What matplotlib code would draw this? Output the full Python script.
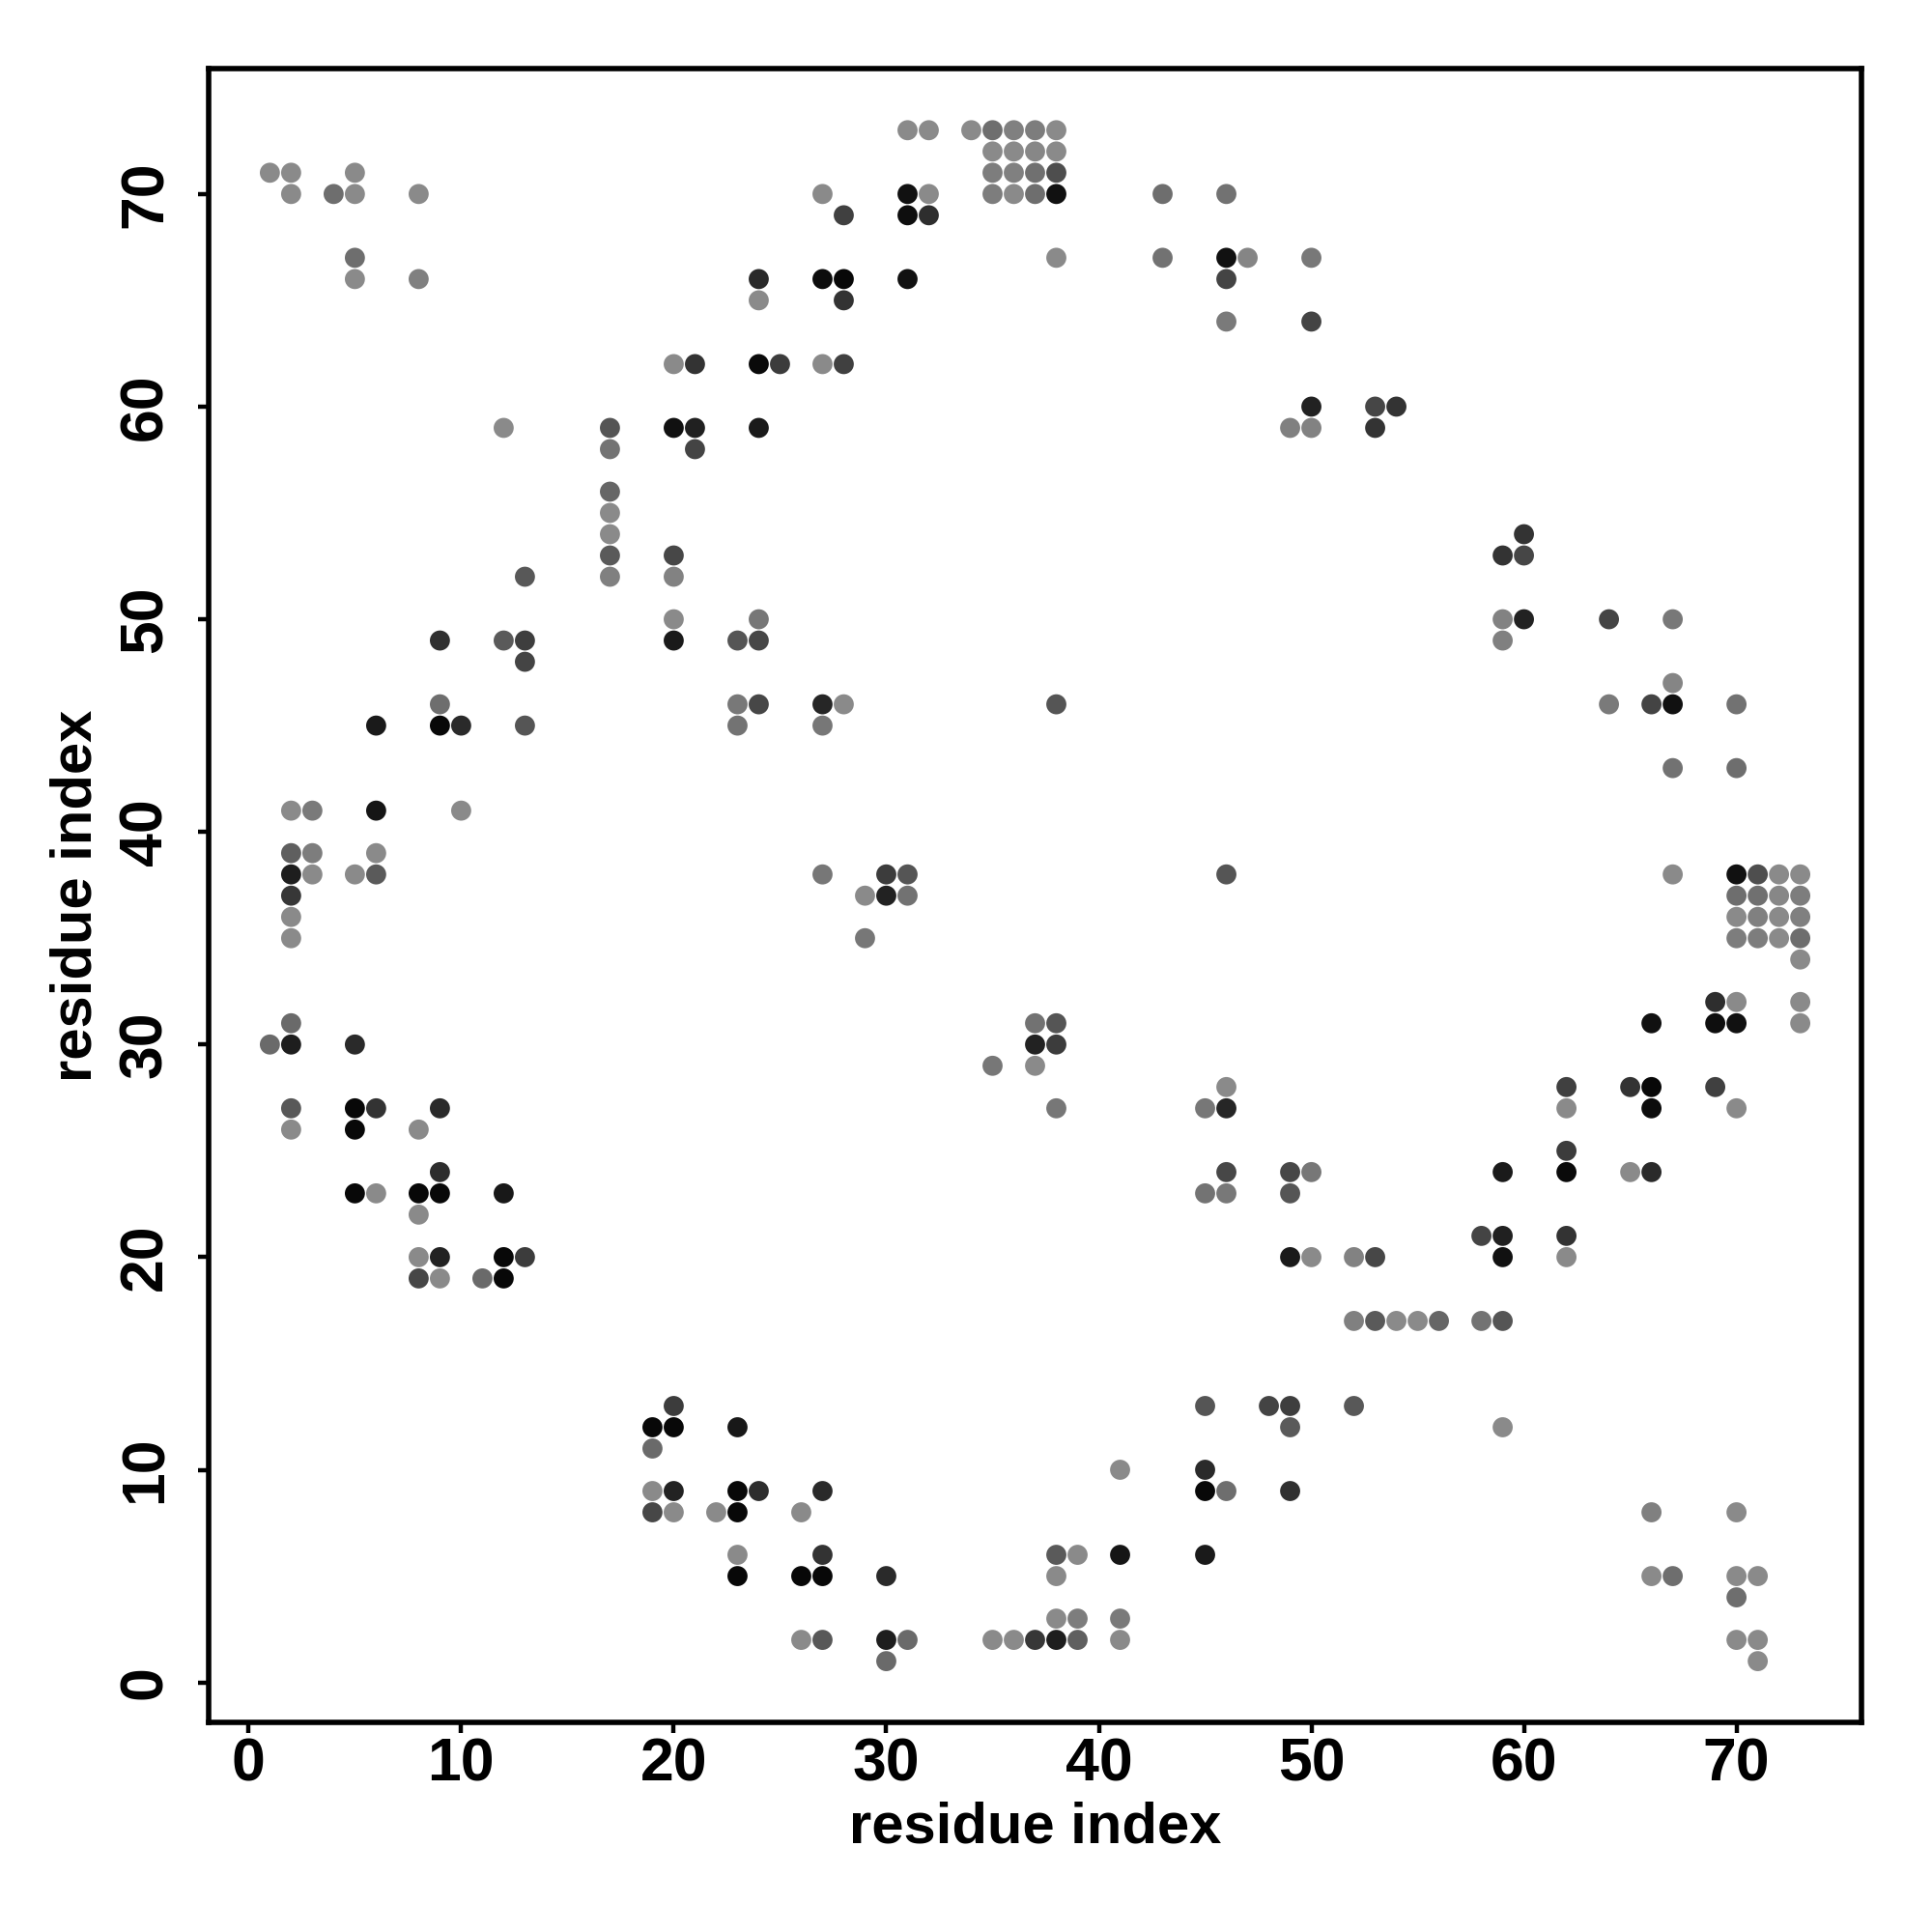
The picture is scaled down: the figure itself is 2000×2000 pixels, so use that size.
import numpy as np
import matplotlib
matplotlib.use('Agg')
import matplotlib.pyplot as plt

plt.rcParams['font.family'] = ['Liberation Sans', 'DejaVu Sans']

# contacts, upper triangle (i < j); map is symmetric
res_i = [1, 2, 5, 2, 4, 5, 8, 5, 5, 8,
         12, 17, 17, 17, 17, 17, 17, 17, 13,
         9, 12, 13, 13, 9, 6, 9, 10, 13,
         2, 3, 6, 10, 2, 3, 6, 2, 3, 5, 6, 2, 2, 2,
         2, 1, 2, 5, 2, 2, 5, 6, 9, 5, 8, 9,
         5, 6, 8, 9, 12, 8, 8, 9, 12, 13, 8, 9, 11, 12,
         20, 21, 24, 25, 27, 28, 20, 21, 24, 21, 20, 20, 20, 24,
         20, 23, 24, 23, 24, 27, 28, 23, 27,
         27, 30, 31, 29, 30, 31, 29,
         24, 24, 27, 28, 31, 28, 27, 28, 31, 32, 31, 32,
         31, 32, 34, 35, 36, 37, 38, 35, 36, 37, 38,
         35, 36, 37, 38, 35, 36, 37, 38, 38, 38,
         43, 46, 43, 46, 47, 50, 46, 46, 50,
         50, 53, 54, 49, 50, 53]
res_j = [71, 71, 71, 70, 70, 70, 70, 67, 66, 66,
         59, 59, 58, 56, 55, 54, 53, 52, 52,
         49, 49, 49, 48, 46, 45, 45, 45, 45,
         41, 41, 41, 41, 39, 39, 39, 38, 38, 38, 38, 37, 36, 35,
         31, 30, 30, 30, 27, 26, 27, 27, 27, 26, 26, 24,
         23, 23, 23, 23, 23, 22, 20, 20, 20, 20, 19, 19, 19, 19,
         62, 62, 62, 62, 62, 62, 59, 59, 59, 58, 53, 52, 50, 50,
         49, 49, 49, 46, 46, 46, 46, 45, 45,
         38, 38, 38, 37, 37, 37, 35,
         66, 65, 66, 66, 66, 65, 70, 69, 70, 70, 69, 69,
         73, 73, 73, 73, 73, 73, 73, 72, 72, 72, 72,
         71, 71, 71, 71, 70, 70, 70, 70, 67, 46,
         70, 70, 67, 67, 67, 67, 66, 64, 64,
         60, 60, 60, 59, 59, 59]
# grey level of each contact (0 = black, 255 = white)
grey = [138, 138, 138, 138, 110, 138, 138, 110, 138, 128,
        138, 85, 115, 102, 138, 138, 90, 128, 88,
        48, 90, 62, 68, 110, 26, 8, 42, 85,
        138, 122, 21, 138, 95, 125, 138, 30, 138, 138, 90, 55, 138, 138,
        106, 106, 30, 42, 88, 138, 8, 51, 42, 8, 138, 45,
        8, 138, 8, 8, 24, 138, 138, 34, 8, 60, 71, 138, 106, 8,
        138, 51, 10, 60, 138, 64, 17, 32, 26, 68, 71, 130, 138, 119,
        26, 85, 71, 120, 71, 38, 138, 115, 119,
        119, 60, 85, 138, 34, 114, 119,
        42, 138, 12, 8, 17, 51, 138, 64, 17, 138, 14, 46,
        138, 138, 138, 110, 128, 125, 138, 138, 138, 135, 138,
        125, 128, 112, 78, 125, 138, 110, 17, 138, 85,
        110, 114, 114, 17, 133, 120, 68, 122, 68,
        34, 70, 51, 128, 130, 51]

x = np.array(res_i + res_j)
y = np.array(res_j + res_i)
g = np.array(grey + grey) / 255.0
colors = [(v, v, v) for v in g]

fig = plt.figure(figsize=(10, 10), dpi=200)
ax = fig.add_axes([0.108, 0.1085, 0.8555, 0.8558])

ax.scatter(x, y, s=56, c=colors, edgecolors='none', zorder=3)

ax.set_xlim(-1.88, 75.88)
ax.set_ylim(-1.88, 75.88)
ax.set_xticks(range(0, 71, 10))
ax.set_yticks(range(0, 71, 10))

for sp in ax.spines.values():
    sp.set_linewidth(2.0)
ax.tick_params(direction='out', length=3.8, width=1.6, labelsize=22.5)
ax.tick_params(axis='x', pad=1.5)
ax.tick_params(axis='y', pad=9)
for lab in ax.get_xticklabels():
    lab.set_fontweight('bold')
for lab in ax.get_yticklabels():
    lab.set_fontweight('bold')
    lab.set_rotation(90)
    lab.set_va('center')

ax.set_xlabel('residue index', fontsize=21.5, fontweight='bold')
ax.set_ylabel('residue index', fontsize=21.5, fontweight='bold')
ax.xaxis.set_label_coords(0.5, -0.0637)
ax.xaxis.label.set_va('center')
ax.yaxis.set_label_coords(-0.08, 0.5)
ax.yaxis.label.set_va('center')

plt.savefig('out.png', dpi=200)
